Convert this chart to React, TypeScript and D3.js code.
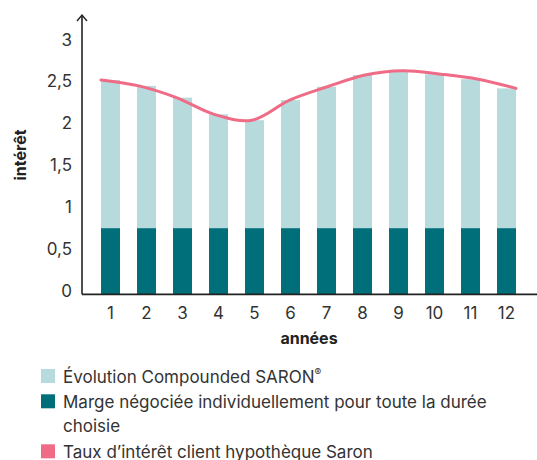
import React from "react";
import * as d3 from "d3";

const years = ["1", "2", "3", "4", "5", "6", "7", "8", "9", "10", "11", "12"];
const margin = [0.79, 0.79, 0.79, 0.79, 0.79, 0.79, 0.79, 0.79, 0.79, 0.79, 0.79, 0.79];
const clientRate = [2.56, 2.49, 2.35, 2.15, 2.08, 2.32, 2.48, 2.62, 2.67, 2.63, 2.57, 2.46];
const yTicks = [0, 0.5, 1, 1.5, 2, 2.5, 3];
const legendItems = [
  { label: ["Évolution Compounded SARON", "®"], color: "#b7dbdd" },
  { label: ["Marge négociée individuellement pour toute la durée", "choisie"], color: "#006f79" },
  { label: ["Taux d’intérêt client hypothèque Saron"], color: "#ef6b86" },
];

const W = 537;
const H = 460;
const FONT = "Inter, 'Noto Sans', sans-serif";

const App = () => {
  const axisX = 82;
  const baseY = 294.3;

  const x = d3.scaleBand().domain(years).range([101, 516]).paddingInner(0.472).paddingOuter(0);
  const y = d3.scaleLinear().domain([0, 3]).range([baseY, 43.2]);
  const fmt = (v) => String(v).replace(".", ",");

  // the rate curve runs from the left edge of bar 1 to the right edge of bar 12
  const lineX = d3.scalePoint().domain(years).range([x("1"), x("12") + x.bandwidth()]);
  const line = d3
    .line()
    .x((d, i) => lineX(years[i]))
    .y((d) => y(d))
    .curve(d3.curveCatmullRom.alpha(0.5));

  return (
    <svg
      width={W}
      height={H}
      style={{ position: "absolute", left: 0, top: 0, background: "#fff", fontFamily: FONT }}
    >
      {/* bars */}
      {years.map((yr, i) => (
        <g key={yr}>
          <rect x={x(yr)} width={x.bandwidth()} y={y(clientRate[i])} height={y(margin[i]) - y(clientRate[i])} fill="#b7dbdd" />
          <rect x={x(yr)} width={x.bandwidth()} y={y(margin[i])} height={baseY - y(margin[i])} fill="#006f79" />
        </g>
      ))}

      <path d={line(clientRate)} fill="none" stroke="#ef6b86" strokeWidth={3} strokeLinecap="round" />

      {/* axes */}
      <line x1={axisX} x2={axisX} y1={15} y2={baseY} stroke="#222" strokeWidth={1.6} />
      <path d={`M${axisX - 5},${21} L${axisX},${15} L${axisX + 5},${21}`} fill="none" stroke="#222" strokeWidth={1.4} />
      <line x1={axisX} x2={W} y1={baseY} y2={baseY} stroke="#222" strokeWidth={1.8} />

      {yTicks.map((t) => (
        <text key={t} x={72} y={y(t) + 2.3} textAnchor="end" fontSize={17} fill="#333">
          {fmt(t)}
        </text>
      ))}
      {years.map((yr) => (
        <text key={yr} x={x(yr) + x.bandwidth() / 2} y={318.5} textAnchor="middle" fontSize={17} fill="#333">
          {yr}
        </text>
      ))}

      <text x={309} y={343.5} textAnchor="middle" fontSize={16} fontWeight={700} fill="#222">
        années
      </text>
      <text transform="translate(26,155) rotate(-90)" textAnchor="middle" fontSize={16} fontWeight={700} fill="#222">
        intérêt
      </text>

      {/* legend */}
      {legendItems.map((item, i) => {
        const top = [369, 394.3, 444.3][i];
        return (
          <g key={i}>
            <rect x={41} y={top} width={14} height={14} fill={item.color} />
            {i === 0 ? (
              <text x={63} y={top + 14.2} fontSize={17} fill="#333">
                {item.label[0]}
                <tspan fontSize={10} dy={-7}>{item.label[1]}</tspan>
              </text>
            ) : (
              item.label.map((l, j) => (
                <text key={j} x={63} y={top + 14 + j * 23.5} fontSize={17} fill="#333">
                  {l}
                </text>
              ))
            )}
          </g>
        );
      })}
    </svg>
  );
};

export default App;
